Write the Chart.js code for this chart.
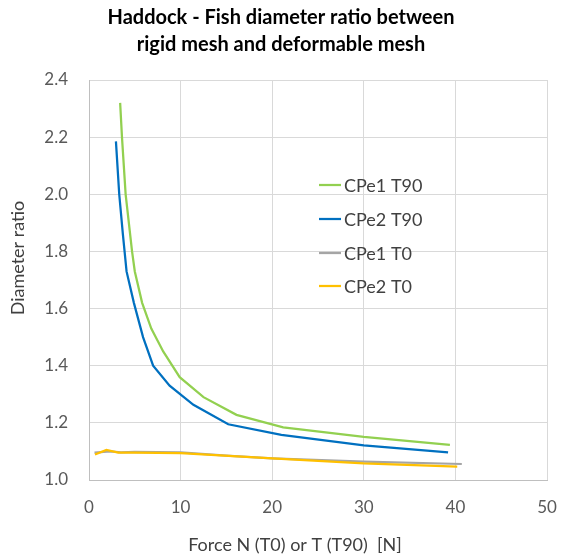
<!DOCTYPE html>
<html>
<head>
<meta charset="utf-8">
<script src="https://cdn.jsdelivr.net/npm/chart.js@4"></script>
<style>
  html, body { margin: 0; padding: 0; background: #fff; }
  #wrap { width: 562px; height: 560px; position: relative; }
</style>
</head>
<body>
<div id="wrap"><canvas id="chart" width="562" height="560"></canvas></div>
<script>
// 축 눈금
const xTicks = [0, 10, 20, 30, 40, 50];
const yTicks = [1.0, 1.2, 1.4, 1.6, 1.8, 2.0, 2.2, 2.4];

// 시리즈 라벨
const seriesNames = ["CPe1 T90", "CPe2 T90", "CPe1 T0", "CPe2 T0"];

// CPe1 T90 (green)
const cpe1T90Force = [3.4, 3.6, 4.0, 4.7, 5.0, 5.8, 6.8, 8.1, 9.9, 12.5, 16.1, 21.2, 30, 39.4];
const cpe1T90Ratio = [2.32, 2.20, 2.00, 1.80, 1.73, 1.62, 1.53, 1.45, 1.36, 1.29, 1.228, 1.184, 1.151, 1.123];

// CPe2 T90 (blue)
const cpe2T90Force = [2.94, 3.3, 3.7, 4.1, 4.9, 5.9, 7.0, 8.8, 11.4, 15.2, 21.0, 30, 39.2];
const cpe2T90Ratio = [2.185, 2.00, 1.86, 1.73, 1.62, 1.50, 1.40, 1.33, 1.263, 1.195, 1.158, 1.121, 1.097];

// CPe1 T0 (gray)
const cpe1T0Force = [0.6, 2.3, 3.5, 5.0, 10.0, 15.0, 20.0, 30.0, 40.7];
const cpe1T0Ratio = [1.096, 1.100, 1.097, 1.098, 1.097, 1.085, 1.076, 1.064, 1.056];

// CPe2 T0 (yellow)
const cpe2T0Force = [0.65, 1.9, 3.2, 5.0, 10.0, 20.0, 30.0, 40.2];
const cpe2T0Ratio = [1.089, 1.105, 1.096, 1.096, 1.094, 1.076, 1.058, 1.047];

const colors = ["#92d050", "#0070c0", "#a5a5a5", "#ffc000"];
const FONT = "Lato, 'Open Sans', sans-serif";

function toPoints(xs, ys){
	return xs.map((x, i) => ({ x: x, y: ys[i] }));
}

const seriesData = [
	toPoints(cpe1T90Force, cpe1T90Ratio),
	toPoints(cpe2T90Force, cpe2T90Ratio),
	toPoints(cpe1T0Force, cpe1T0Ratio),
	toPoints(cpe2T0Force, cpe2T0Ratio)
];

// 제목, 축 제목, 범례 그리기
const overlayPlugin = {
	id: "overlay",
	afterDraw(chart){
		const ctx = chart.ctx;
		ctx.save();
		ctx.fillStyle = "#000";
		ctx.font = "bold 20px " + FONT;
		ctx.textAlign = "center";
		ctx.textBaseline = "middle";
		ctx.fillText("Haddock - Fish diameter ratio between", 281, 18);
		ctx.fillText("rigid mesh and deformable mesh", 281, 45);

		// 축 제목
		ctx.fillStyle = "#404040";
		ctx.font = "18px " + FONT;
		ctx.fillText("Force N (T0) or T (T90)  [N]", 295, 545);
		ctx.save();
		ctx.translate(18, 258);
		ctx.rotate(-Math.PI / 2);
		ctx.fillText("Diameter ratio", 0, 0);
		ctx.restore();

		// 범례
		const rowY = [185, 219, 253, 286];
		ctx.font = "18px " + FONT;
		ctx.textAlign = "left";
		seriesNames.forEach((name, i) => {
			ctx.strokeStyle = colors[i];
			ctx.lineWidth = 2.25;
			ctx.beginPath();
			ctx.moveTo(319, rowY[i]);
			ctx.lineTo(341, rowY[i]);
			ctx.stroke();
			ctx.fillStyle = "#404040";
			ctx.fillText(name, 344, rowY[i] + 1);
		});
		ctx.restore();
	}
};

document.addEventListener("DOMContentLoaded", () => {
	const ctx = document.getElementById("chart").getContext("2d");
	new Chart(ctx, {
		type: "scatter",
		data: {
			datasets: seriesNames.map((name, i) => ({
				label: name,
				data: seriesData[i],
				showLine: true,
				borderColor: colors[i],
				backgroundColor: colors[i],
				borderWidth: 2.25,
				pointRadius: 0,
				tension: 0,
				order: 3 - i
			}))
		},
		options: {
			responsive: false,
			animation: false,
			layout: { padding: { top: 80, right: 15, bottom: 0, left: 0 } },
			plugins: {
				legend: { display: false },
				title: { display: false },
				tooltip: { enabled: false }
			},
			scales: {
				x: {
					type: "linear",
					min: 0, max: 50,
					afterBuildTicks: (scale) => { scale.ticks = xTicks.map(v => ({ value: v })); },
					afterFit: (scale) => {
						scale.height = 80;
						scale.paddingLeft = 0;
						scale.paddingRight = 0;
					},
					grid: { color: "#d9d9d9", drawTicks: false },
					border: { color: "#bfbfbf", width: 1 },
					ticks: { color: "#595959", font: { family: FONT, size: 17 }, padding: 17 }
				},
				y: {
					type: "linear",
					min: 1.0, max: 2.4,
					afterBuildTicks: (scale) => { scale.ticks = yTicks.map(v => ({ value: v })); },
					afterFit: (scale) => {
						scale.width = 89;
						scale.paddingTop = 0;
						scale.paddingBottom = 0;
					},
					grid: { color: "#d9d9d9", drawTicks: false },
					border: { color: "#bfbfbf", width: 1 },
					ticks: {
						color: "#595959",
						font: { family: FONT, size: 17 },
						padding: 21,
						callback: (v) => Number(v).toFixed(1)
					}
				}
			}
		},
		plugins: [overlayPlugin]
	});
});
</script>
</body>
</html>
